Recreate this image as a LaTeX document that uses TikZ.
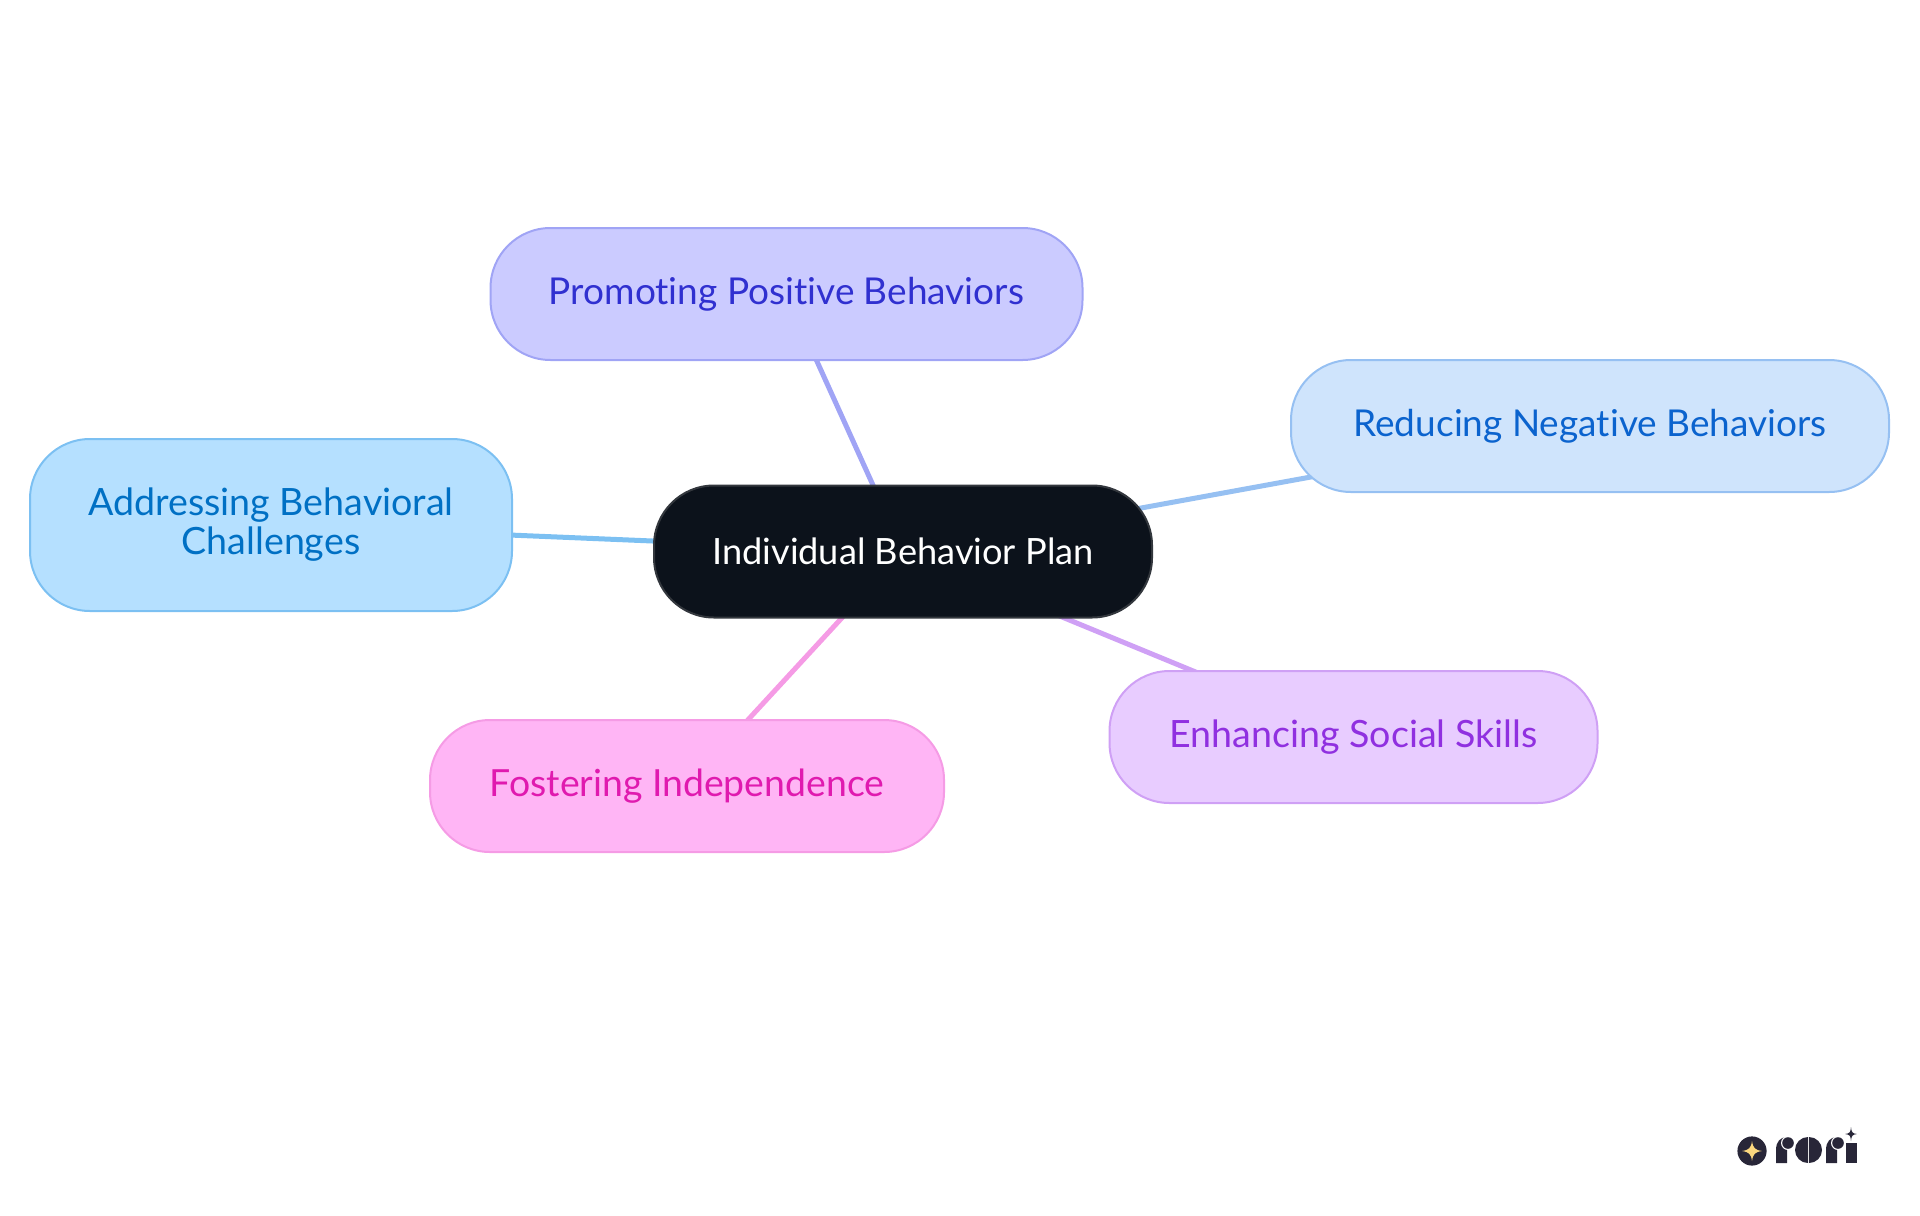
\documentclass[tikz,border=0pt]{standalone}
\usepackage{fontspec}
\setmainfont{Lato}[Ligatures=CommonOff]
\usetikzlibrary{backgrounds}

\definecolor{cRootFill}{HTML}{0C121B}
\definecolor{cRootLine}{HTML}{33373D}
\definecolor{cRootText}{HTML}{FFFFFF}
\definecolor{cPromFill}{HTML}{CBCBFF}
\definecolor{cPromLine}{HTML}{A0A4F5}
\definecolor{cPromText}{HTML}{3030D0}
\definecolor{cReduFill}{HTML}{CFE4FC}
\definecolor{cReduLine}{HTML}{96C0F2}
\definecolor{cReduText}{HTML}{0B63CE}
\definecolor{cAddrFill}{HTML}{B5E0FF}
\definecolor{cAddrLine}{HTML}{7CC0F2}
\definecolor{cAddrText}{HTML}{0070C4}
\definecolor{cFostFill}{HTML}{FFB5F5}
\definecolor{cFostLine}{HTML}{F59BE5}
\definecolor{cFostText}{HTML}{E01AAF}
\definecolor{cEnhaFill}{HTML}{E8CCFF}
\definecolor{cEnhaLine}{HTML}{CFA0F5}
\definecolor{cEnhaText}{HTML}{9030E0}
\definecolor{cLogo}{HTML}{282638}
\definecolor{cLogoStar}{HTML}{FBD77F}

\tikzset{
    mapbox/.style={draw=#1Line,fill=#1Fill,text=#1Text,line width=1pt,rounded corners=30pt,
        minimum height=66pt,inner sep=0pt,align=center,
        font=\fontsize{18.5}{19.5}\selectfont},
    mapline/.style={line width=2.5pt}
}

\begin{document}
\begin{tikzpicture}[x=0.5pt,y=-0.5pt]

\useasboundingbox (0,0) rectangle (1920,1215);

\node[mapbox=cRoot,minimum width=249pt,font=\fontsize{18.1}{19.5}\selectfont] (nRoot) at (903,551.5) {Individual Behavior Plan};
\node[mapbox=cProm,minimum width=296pt] (nProm) at (786.5,294) {Promoting Positive Behaviors};
\node[mapbox=cRedu,minimum width=299pt] (nRedu) at (1590,426) {Reducing Negative Behaviors};
\node[mapbox=cAddr,minimum width=241pt,minimum height=86pt,font=\fontsize{18.8}{19.5}\selectfont] (nAddr) at (271,525) {Addressing Behavioral\\Challenges};
\node[mapbox=cFost,minimum width=257pt,font=\fontsize{18.7}{19.5}\selectfont] (nFost) at (687,786) {Fostering Independence};
\node[mapbox=cEnha,minimum width=244pt,font=\fontsize{18.8}{19.5}\selectfont] (nEnha) at (1353.5,737) {Enhancing Social Skills};

\begin{scope}[on background layer]
\foreach \v/\u in 
{nProm/cPromLine,
    nRedu/cReduLine,
    nAddr/cAddrLine,
    nFost/cFostLine,
    nEnha/cEnhaLine}
{
    \draw[mapline,draw=\u] (nRoot.center) -- (\v.center);
};
\end{scope}

% logo
\fill[cLogo] (1752,1151) circle (7.3pt);
\fill[cLogoStar] (1752,1141) .. controls (1753,1148) and (1755,1150) .. (1762,1151) .. controls (1755,1152) and (1753,1154) .. (1752,1161) .. controls (1751,1154) and (1749,1152) .. (1742,1151) .. controls (1749,1150) and (1751,1148) .. (1752,1141) -- cycle;
\foreach \x in {0,50}
{
    \fill[cLogo,xshift=\x*0.5pt] (1776,1163) -- (1776,1150) .. controls (1776,1142) and (1780,1137) .. (1787,1137) -- (1787,1163) -- cycle;
    \fill[white,xshift=\x*0.5pt] (1788,1143) circle (3.5pt);
    \fill[cLogo,xshift=\x*0.5pt] (1788,1143) circle (2.9pt);
};
\fill[cLogo] (1808,1137) arc (90:270:6.5pt) -- cycle;
\fill[cLogo] (1809,1137) arc (90:-90:6.5pt) -- cycle;
\fill[cLogo] (1846,1143) -- (1857,1143) -- (1857,1163) -- (1846,1163) -- cycle;
\fill[cLogo] (1851,1127) .. controls (1851.5,1132) and (1852,1133.5) .. (1857,1134) .. controls (1852,1134.5) and (1851.5,1136) .. (1851,1141) .. controls (1850.5,1136) and (1850,1134.5) .. (1845,1134) .. controls (1850,1133.5) and (1850.5,1132) .. (1851,1127) -- cycle;

\end{tikzpicture}
\end{document}
